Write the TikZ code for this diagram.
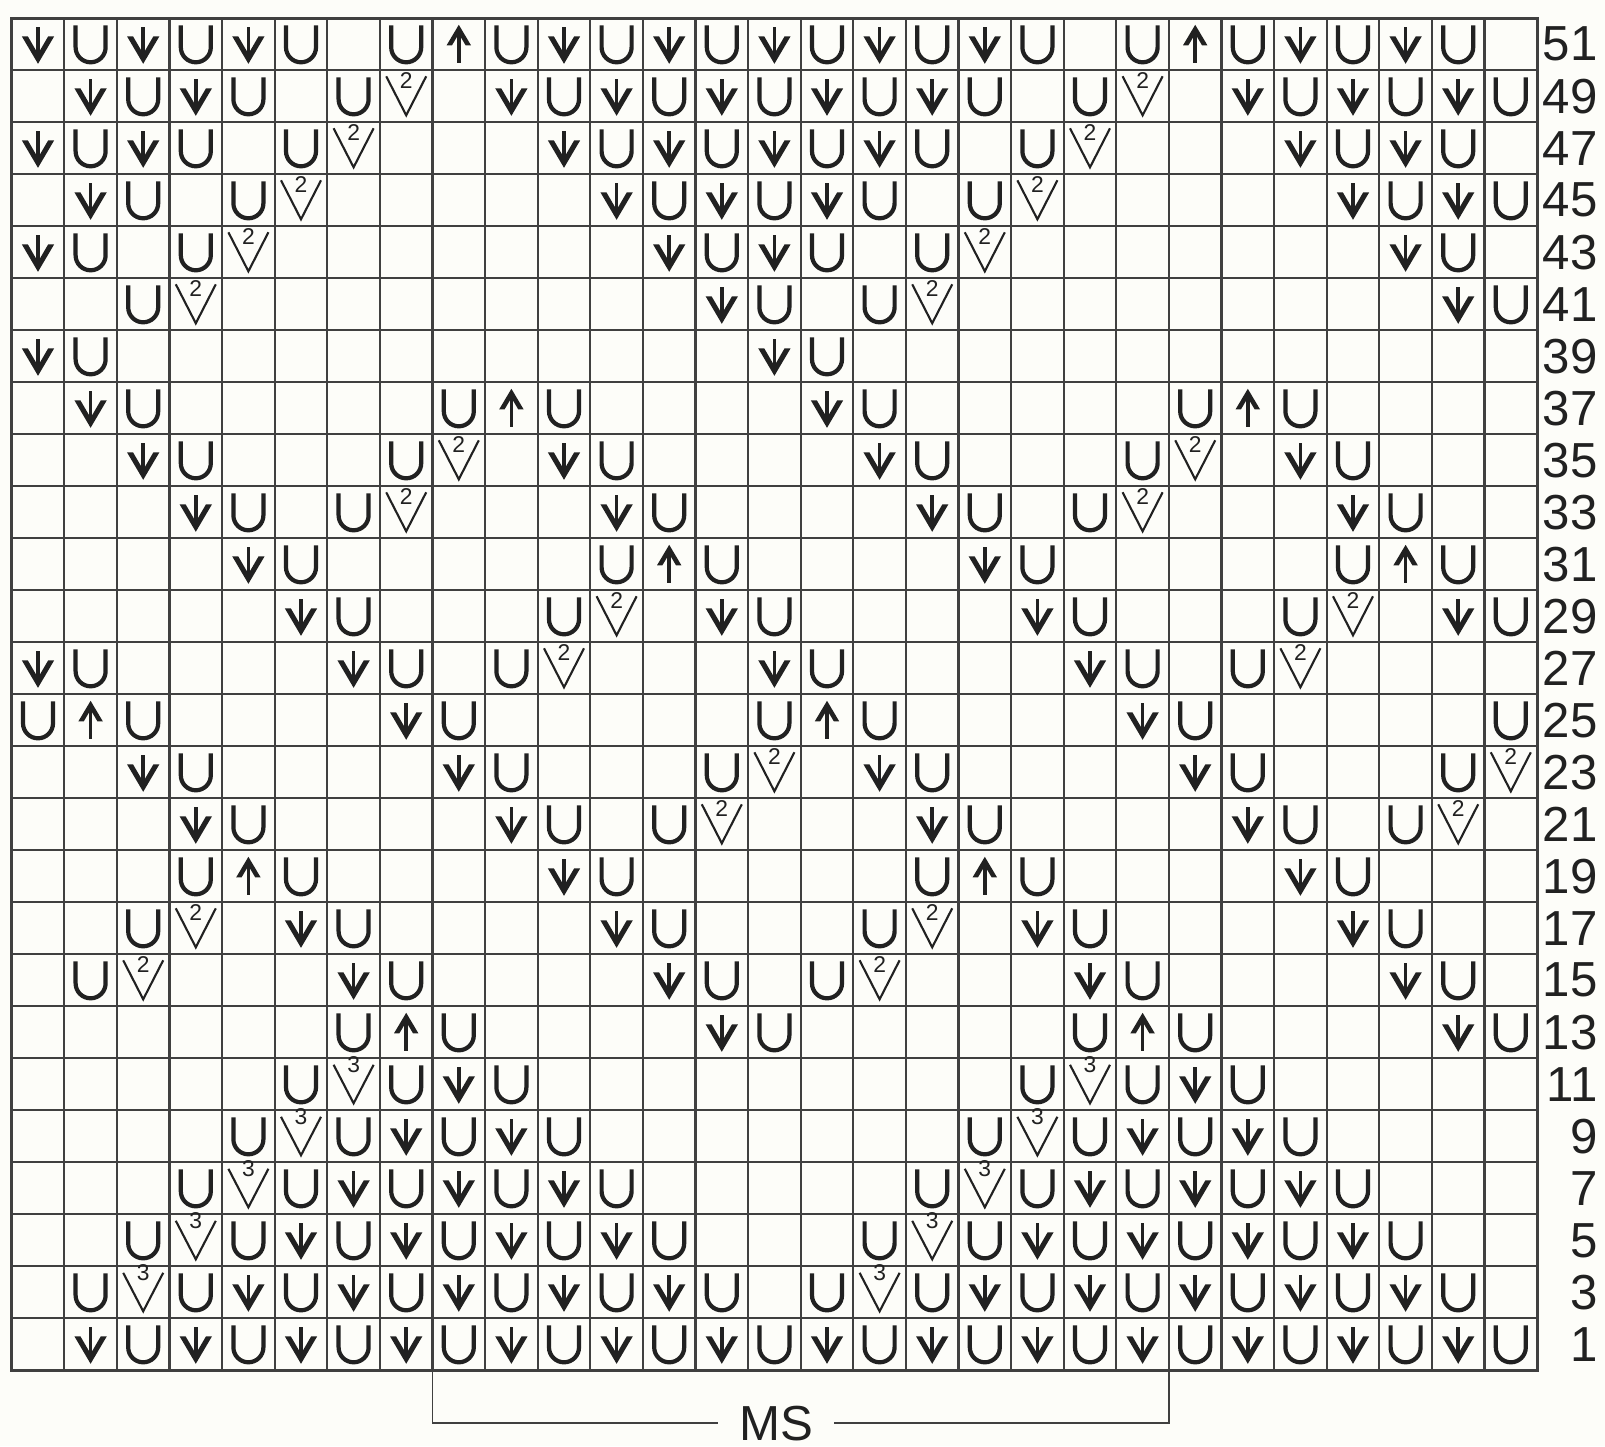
\documentclass[tikz,border=0pt]{standalone}
\usepackage{fontspec}
\setmainfont{Liberation Sans}
\usetikzlibrary{calc}

\definecolor{paper}{RGB}{253,253,249}
\definecolor{ink}{gray}{0.13}
\definecolor{rule}{gray}{0.25}

\tikzset{
  gridline/.style={rule, line width=0.65pt},
  frame/.style={rule, line width=0.9pt},
  bracket/.style={rule, line width=0.55pt},
  rowlabel/.style={anchor=east, inner sep=0pt, text=ink, font=\fontsize{14}{16}\selectfont},
  mslabel/.style={inner xsep=2mm, inner ysep=0pt, text=ink, font=\fontsize{14}{16}\selectfont},
  smallnum/.style={inner sep=0pt, text=ink, font=\fontsize{6.5}{7}\selectfont},
  st-e/.pic={},
  st-u/.pic={
    \draw[ink, line width=1.2pt] (-1.5mm,1.9mm) -- (-1.5mm,-0.3mm)
      arc[start angle=180, end angle=360, radius=1.5mm] -- (1.5mm,1.9mm);
  },
  st-d/.pic={
    \draw[ink, line width=1pt] (0,1.7mm) -- (0,-1.2mm);
    \fill[ink] (0,-1.95mm) -- (-1.62mm,0.8mm) -- (-1.02mm,0.8mm) -- (0,-0.95mm)
      -- (1.02mm,0.8mm) -- (1.62mm,0.8mm) -- cycle;
  },
  st-a/.pic={
    \draw[ink, line width=1pt] (0,-1.85mm) -- (0,1.2mm);
    \fill[ink] (0,1.95mm) -- (-1.22mm,-0.1mm) -- (-0.68mm,-0.1mm) -- (0,1.05mm)
      -- (0.68mm,-0.1mm) -- (1.22mm,-0.1mm) -- cycle;
  },
  st-t/.pic={
    \draw[ink, line width=0.6pt, line join=miter] (-2mm,2mm) -- (0,-1.9mm) -- (2mm,2mm);
    \node[smallnum] at (0,1.6mm) {2};
  },
  st-h/.pic={
    \draw[ink, line width=0.6pt, line join=miter] (-2mm,1.95mm) -- (0,-1.9mm) -- (2mm,1.95mm);
    \node[smallnum] at (0,1.95mm) {3};
  }
}

\begin{document}
\begin{tikzpicture}[x=5.26mm, y=-5.2mm]
\fill[paper] (-1.17mm,1.83mm) rectangle ++(160.5mm,-144.6mm);
\useasboundingbox (-1.17mm,1.83mm) rectangle ++(160.5mm,-144.6mm);

\foreach \i in {0,...,29} \draw[gridline] (\i,0) -- (\i,26);
\foreach \j in {0,...,26} \draw[gridline] (0,\j) -- (29,\j);
\draw[frame] (0,0) rectangle (29,26);

\foreach \row [count=\k] in {%
  {d,u,d,u,d,u,e,u,a,u,d,u,d,u,d,u,d,u,d,u,e,u,a,u,d,u,d,u,e},%
  {e,d,u,d,u,e,u,t,e,d,u,d,u,d,u,d,u,d,u,e,u,t,e,d,u,d,u,d,u},%
  {d,u,d,u,e,u,t,e,e,e,d,u,d,u,d,u,d,u,e,u,t,e,e,e,d,u,d,u,e},%
  {e,d,u,e,u,t,e,e,e,e,e,d,u,d,u,d,u,e,u,t,e,e,e,e,e,d,u,d,u},%
  {d,u,e,u,t,e,e,e,e,e,e,e,d,u,d,u,e,u,t,e,e,e,e,e,e,e,d,u,e},%
  {e,e,u,t,e,e,e,e,e,e,e,e,e,d,u,e,u,t,e,e,e,e,e,e,e,e,e,d,u},%
  {d,u,e,e,e,e,e,e,e,e,e,e,e,e,d,u,e,e,e,e,e,e,e,e,e,e,e,e,e},%
  {e,d,u,e,e,e,e,e,u,a,u,e,e,e,e,d,u,e,e,e,e,e,u,a,u,e,e,e,e},%
  {e,e,d,u,e,e,e,u,t,e,d,u,e,e,e,e,d,u,e,e,e,u,t,e,d,u,e,e,e},%
  {e,e,e,d,u,e,u,t,e,e,e,d,u,e,e,e,e,d,u,e,u,t,e,e,e,d,u,e,e},%
  {e,e,e,e,d,u,e,e,e,e,e,u,a,u,e,e,e,e,d,u,e,e,e,e,e,u,a,u,e},%
  {e,e,e,e,e,d,u,e,e,e,u,t,e,d,u,e,e,e,e,d,u,e,e,e,u,t,e,d,u},%
  {d,u,e,e,e,e,d,u,e,u,t,e,e,e,d,u,e,e,e,e,d,u,e,u,t,e,e,e,e},%
  {u,a,u,e,e,e,e,d,u,e,e,e,e,e,u,a,u,e,e,e,e,d,u,e,e,e,e,e,u},%
  {e,e,d,u,e,e,e,e,d,u,e,e,e,u,t,e,d,u,e,e,e,e,d,u,e,e,e,u,t},%
  {e,e,e,d,u,e,e,e,e,d,u,e,u,t,e,e,e,d,u,e,e,e,e,d,u,e,u,t,e},%
  {e,e,e,u,a,u,e,e,e,e,d,u,e,e,e,e,e,u,a,u,e,e,e,e,d,u,e,e,e},%
  {e,e,u,t,e,d,u,e,e,e,e,d,u,e,e,e,u,t,e,d,u,e,e,e,e,d,u,e,e},%
  {e,u,t,e,e,e,d,u,e,e,e,e,d,u,e,u,t,e,e,e,d,u,e,e,e,e,d,u,e},%
  {e,e,e,e,e,e,u,a,u,e,e,e,e,d,u,e,e,e,e,e,u,a,u,e,e,e,e,d,u},%
  {e,e,e,e,e,u,h,u,d,u,e,e,e,e,e,e,e,e,e,u,h,u,d,u,e,e,e,e,e},%
  {e,e,e,e,u,h,u,d,u,d,u,e,e,e,e,e,e,e,u,h,u,d,u,d,u,e,e,e,e},%
  {e,e,e,u,h,u,d,u,d,u,d,u,e,e,e,e,e,u,h,u,d,u,d,u,d,u,e,e,e},%
  {e,e,u,h,u,d,u,d,u,d,u,d,u,e,e,e,u,h,u,d,u,d,u,d,u,d,u,e,e},%
  {e,u,h,u,d,u,d,u,d,u,d,u,d,u,e,u,h,u,d,u,d,u,d,u,d,u,d,u,e},%
  {e,d,u,d,u,d,u,d,u,d,u,d,u,d,u,d,u,d,u,d,u,d,u,d,u,d,u,d,u}}{
  \foreach \s [count=\c] in \row
    \pic at (\c-0.5,\k-0.5) {st-\s};
}

\foreach \k in {1,...,26}{
  \pgfmathtruncatemacro{\num}{53-2*\k}
  \node[rowlabel] (lbl\num) at (30.16,\k-0.5) {\num};
}

\coordinate (ms-l) at (8,26);
\coordinate (ms-r) at (22,26);
\node[mslabel] (ms) at (14.53,27.02) {MS};
\draw[bracket] (ms-l) |- (ms.west);
\draw[bracket] (ms-r) |- (ms.east);
\end{tikzpicture}
\end{document}
